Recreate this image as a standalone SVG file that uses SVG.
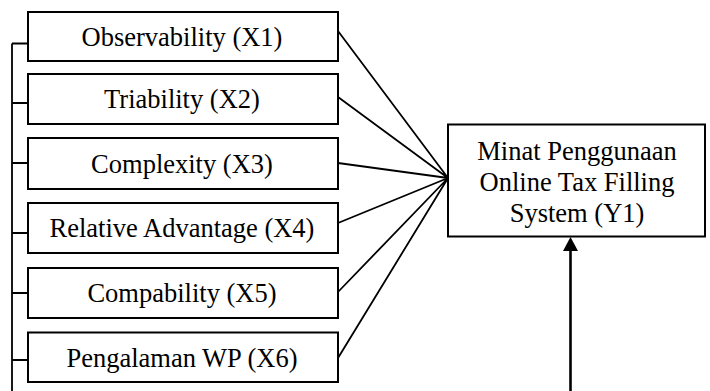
<svg xmlns="http://www.w3.org/2000/svg" width="710" height="391" viewBox="0 0 710 391">
<style>
.box{fill:#fff;stroke:#000;stroke-width:2}
.t{font-family:"Liberation Serif","Times New Roman",serif;font-size:26.5px;fill:#000;text-anchor:middle}
.c{stroke:#000;stroke-width:1.8;fill:none}
</style>
<rect width="710" height="391" fill="#fff"/>
<g id="connectors">
<path class="c" d="M12,43.5 V391 M12,43.5 H28 M12,103 H28 M12,163 H28 M12,233 H28 M12,293 H28 M12,360 H28"/>
<path class="c" d="M338,31 L448,178 M338,97 L448,178 M338,163 L448,178 M338,223 L448,178 M338,292 L448,178 M338,358 L448,178"/>
<line x1="570.5" y1="391" x2="570.5" y2="249" stroke="#000" stroke-width="2.6"/>
<polygon points="570.5,237 563,251 578,251" fill="#000"/>
</g>
<g id="x1"><rect class="box" x="28" y="12" width="310" height="49"/><text class="t" x="182" y="46">Observability (X1)</text></g>
<g id="x2"><rect class="box" x="28" y="74" width="310" height="50"/><text class="t" x="182" y="108">Triability (X2)</text></g>
<g id="x3"><rect class="box" x="28" y="138" width="310" height="51"/><text class="t" x="182" y="173">Complexity (X3)</text></g>
<g id="x4"><rect class="box" x="28" y="203" width="310" height="50"/><text class="t" x="182" y="237">Relative Advantage (X4)</text></g>
<g id="x5"><rect class="box" x="28" y="268" width="310" height="50"/><text class="t" x="182" y="302">Compability (X5)</text></g>
<g id="x6"><rect class="box" x="28" y="332.5" width="310" height="49.5"/><text class="t" x="182" y="367">Pengalaman WP (X6)</text></g>
<g id="y1"><rect class="box" x="448" y="124.5" width="257" height="112"/>
<text class="t" x="577" y="160">Minat Penggunaan</text>
<text class="t" x="577" y="191">Online Tax Filling</text>
<text class="t" x="577" y="222">System (Y1)</text></g>
</svg>
